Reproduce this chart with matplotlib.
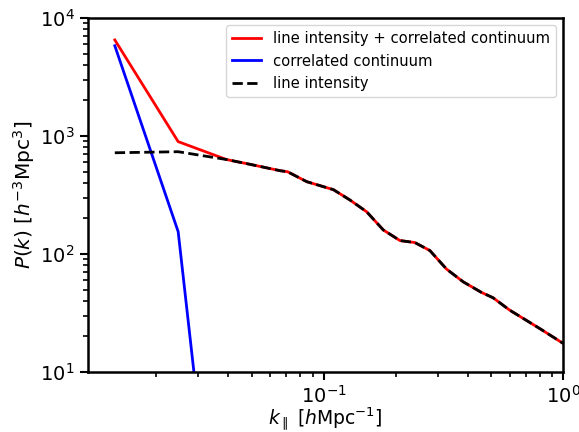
import matplotlib
matplotlib.use("Agg")
import matplotlib.pyplot as plt
import numpy as np

# k values (h/Mpc)
k = [0.01343, 0.0247, 0.0393, 0.0494, 0.0659, 0.0707, 0.0851, 0.1099, 0.1288,
     0.1513, 0.1775, 0.2084, 0.2406, 0.2779, 0.326, 0.3824, 0.456, 0.510,
     0.598, 0.798, 1.0]
# line intensity power spectrum
p_line = [721, 736, 632, 575, 508, 498, 410, 351, 287, 228, 160, 130, 125,
          107, 74.6, 58.2, 47.3, 42.6, 33.5, 23.4, 17.5]
# line intensity + correlated continuum
p_total = [6520, 896, 632, 575, 508, 498, 410, 351, 287, 228, 160, 130, 125,
           107, 74.6, 58.2, 47.3, 42.6, 33.5, 23.4, 17.5]
# correlated continuum (only first points visible)
k_cont = [0.01343, 0.0247, 0.0393]
p_cont = [5820, 154.6, 0.035]

fig = plt.figure(figsize=(5.79, 4.32), dpi=100)
ax = fig.add_axes([0.1515, 0.1389, 0.8209, 0.8194])

ax.plot(k, p_total, color="red", lw=2, label="line intensity + correlated continuum")
ax.plot(k_cont, p_cont, color="blue", lw=2, label="correlated continuum")
ax.plot(k, p_line, color="black", lw=2, ls="--", label="line intensity")

ax.set_xscale("log")
ax.set_yscale("log")
ax.set_xlim(0.01035, 1.0)
ax.set_ylim(10, 1e4)

ax.set_xlabel(r"$k_\parallel$ [$h$Mpc$^{-1}$]", fontsize=13.5, labelpad=-1)
ax.set_ylabel(r"$P(k)$ [$h^{-3}$Mpc$^3$]", fontsize=14.5, labelpad=2)
ax.tick_params(axis="both", which="major", labelsize=14, width=1.5, length=6)
ax.tick_params(axis="both", which="minor", width=1.2, length=3.5)
for s in ax.spines.values():
    s.set_linewidth(1.8)

ax.legend(loc="upper right", fontsize=10.6)

fig.savefig("out.png", dpi=100)
